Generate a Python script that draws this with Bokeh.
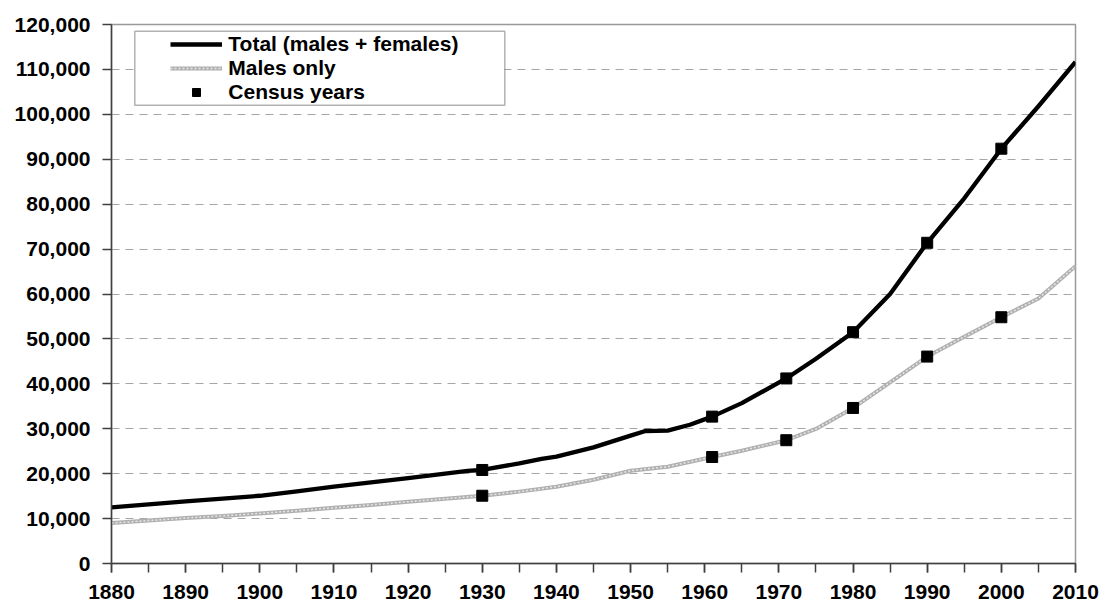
from bokeh.plotting import figure
from bokeh.models import (Range1d, SingleIntervalTicker, FixedTicker, NumeralTickFormatter,
                          Legend, LegendItem, BoxAnnotation)
from bokeh.embed import file_html
from bokeh.resources import INLINE

# ---- data ----
years_total = [1880, 1885, 1890, 1895, 1900, 1905, 1910, 1915, 1920, 1925, 1928, 1930,
               1935, 1938, 1940, 1945, 1950, 1952, 1955, 1958, 1961, 1965, 1971, 1975,
               1980, 1985, 1990, 1995, 2000, 2005, 2010]
total = [12500, 13150, 13840, 14450, 15080, 16050, 17090, 18050, 19030, 20000, 20600, 20820,
         22290, 23300, 23800, 25850, 28460, 29500, 29570, 30900, 32700, 35700, 41200, 45600,
         51500, 60000, 71400, 81300, 92350, 101800, 111660]

years_males = [1880, 1885, 1890, 1895, 1900, 1905, 1910, 1915, 1920, 1925, 1930, 1935,
               1940, 1945, 1950, 1955, 1961, 1965, 1971, 1975, 1980, 1985, 1990, 1995,
               2000, 2005, 2010]
males = [9000, 9550, 10120, 10600, 11150, 11750, 12400, 13050, 13750, 14400, 15090, 16000,
         17090, 18650, 20660, 21550, 23710, 25110, 27450, 29950, 34630, 40340, 46070, 50500,
         54830, 59000, 66200]

census_years = [1930, 1961, 1971, 1980, 1990, 2000]
census_total = [20820, 32700, 41200, 51500, 71400, 92350]
census_males = [15090, 23710, 27450, 34630, 46070, 54830]

y_ticks = [0, 10000, 20000, 30000, 40000, 50000, 60000, 70000, 80000, 90000,
           100000, 110000, 120000]

legend_labels = ["Total (males + females)", "Males only", "Census years"]

FONT = "Liberation Sans"

p = figure(width=1102, height=609, output_backend="svg", toolbar_location=None,
           x_range=Range1d(1880, 2010), y_range=Range1d(0, 120000),
           min_border_left=111, min_border_right=27, min_border_top=24, min_border_bottom=46)

p.background_fill_color = "white"
p.border_fill_color = "white"
p.outline_line_color = "#999999"
p.outline_line_width = 1.5

# grid
p.xgrid.visible = False
p.ygrid.grid_line_color = "#a6a6a6"
p.ygrid.grid_line_dash = "8 6"
p.ygrid.grid_line_width = 1.2

# x axis
xa = p.xaxis[0]
xa.ticker = SingleIntervalTicker(interval=10, num_minor_ticks=2)
xa.axis_line_color = "#404040"
xa.axis_line_width = 1.5
xa.major_tick_line_color = "#404040"
xa.major_tick_line_width = 1.5
xa.minor_tick_line_color = "#404040"
xa.minor_tick_line_width = 1.5
xa.major_tick_in = 0
xa.major_tick_out = 9
xa.minor_tick_in = 0
xa.minor_tick_out = 9
xa.major_label_text_font = FONT
xa.major_label_text_font_style = "bold"
xa.major_label_text_font_size = "21px"
xa.major_label_text_color = "black"
xa.major_label_standoff = 12

# y axis
ya = p.yaxis[0]
ya.ticker = FixedTicker(ticks=y_ticks)
ya.formatter = NumeralTickFormatter(format="0,0")
ya.axis_line_color = "#404040"
ya.axis_line_width = 1.5
ya.major_tick_line_color = "#404040"
ya.major_tick_line_width = 1.5
ya.minor_tick_line_color = None
ya.major_tick_in = 0
ya.major_tick_out = 9
ya.major_label_text_font = FONT
ya.major_label_text_font_style = "bold"
ya.major_label_text_font_size = "21px"
ya.major_label_text_color = "black"
ya.major_label_standoff = 12

# series
r_total = p.line(years_total, total, line_color="black", line_width=4.3, line_join="round")
r_m_base = p.line(years_males, males, line_color="#b0b0b0", line_width=4, line_join="round")
r_m_tex = p.line(years_males, males, line_color="#e6e6e6", line_width=1.5, line_dash="2 2")
r_c1 = p.scatter(census_years, census_total, marker="square", size=11,
                 fill_color="black", line_color="black")
r_c2 = p.scatter(census_years, census_males, marker="square", size=11,
                 fill_color="black", line_color="black")

# legend box
box = BoxAnnotation(left=23.3, right=393.3, bottom=458.3, top=532.3,
                    left_units="screen", right_units="screen",
                    bottom_units="screen", top_units="screen",
                    fill_color="white", fill_alpha=1.0,
                    line_color="black", line_width=1.5)
p.add_layout(box)

entries = [(legend_labels[0], [r_total], 506.7),
           (legend_labels[1], [r_m_base, r_m_tex], 482.7),
           (legend_labels[2], [r_c1], 458.7)]
for label, rends, vy in entries:
    lg = Legend(items=[LegendItem(label=label, renderers=rends)],
                location=(59.3, vy), padding=0, margin=0, spacing=0,
                glyph_width=52, glyph_height=20, label_standoff=6,
                label_height=20, label_width=20,
                label_text_font=FONT, label_text_font_style="bold",
                label_text_font_size="21px", label_text_color="black",
                border_line_color=None, background_fill_alpha=0.0)
    p.add_layout(lg)

open("out.html", "w").write(file_html(p, INLINE))
